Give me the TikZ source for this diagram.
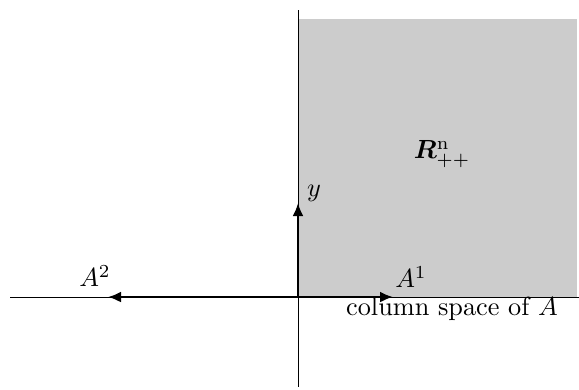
\documentclass[tikz,border=0pt]{standalone}
\usepackage{bm}
\usetikzlibrary{arrows.meta}
\begin{document}
\begin{tikzpicture}[x=0.4pt,y=-0.4pt,
  axis/.style={line width=0.4pt,black},
  vec/.style={line width=0.9pt,-{Latex[length=5.2pt,width=4.4pt]}},
  lab/.style={inner sep=0pt,scale=1.05}]
\useasboundingbox (0,0) rectangle (579,389);
\fill[black!20] (298,19) rectangle (577,297);
\coordinate (O) at (298,297);
\coordinate (xl) at (10,297);
\coordinate (xr) at (579,297);
\coordinate (yt) at (298,10);
\coordinate (yb) at (298,387);
\draw[axis] (xl) -- (xr);
\draw[axis] (yt) -- (yb);
\coordinate (a1) at (393,297);
\coordinate (a2) at (108,297);
\coordinate (ay) at (298,203);
\draw[vec] (O) -- (a1);
\draw[vec] (O) -- (a2);
\draw[vec] (O) -- (ay);
\node[lab] (ylab) at (314,193) {$y$};
\node[lab] (A1lab) at (411,277) {$A^1$};
\node[lab] (A2lab) at (95,276) {$A^2$};
\node[lab] (col) at (452,309) {column space of $A$};
\node[lab] (R) at (442,154) {$\bm{R}^{\mathrm{n}}_{++}$};
\end{tikzpicture}
\end{document}
